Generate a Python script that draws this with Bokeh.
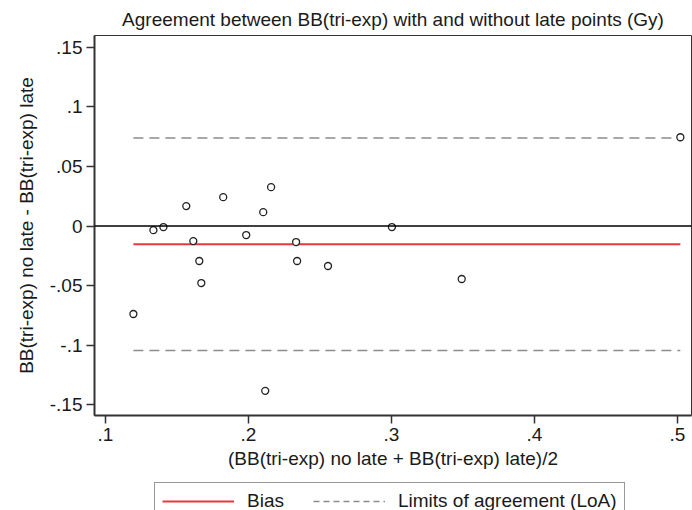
import numpy as np
from bokeh.plotting import figure
from bokeh.layouts import column
from bokeh.models import Span, Legend, LegendItem, FixedTicker
from bokeh.embed import file_html
from bokeh.resources import INLINE

# ---- data ----
mean_vals = [0.1195, 0.1335, 0.1405, 0.1565, 0.1614, 0.1656, 0.1670, 0.1823, 0.1984,
             0.2103, 0.2117, 0.2158, 0.2333, 0.2340, 0.2556, 0.3003, 0.3491, 0.5020]
diff_vals = [-0.0738, -0.0034, -0.0008, 0.0168, -0.0126, -0.0293, -0.0478, 0.0243, -0.0075,
             0.0117, -0.1383, 0.0327, -0.0134, -0.0293, -0.0335, -0.0008, -0.0444, 0.0746]
bias = -0.0152
loa_upper = 0.0740
loa_lower = -0.1045

x_ticks = [0.1, 0.2, 0.3, 0.4, 0.5]
x_tick_labels = [".1", ".2", ".3", ".4", ".5"]
y_ticks = [-0.15, -0.1, -0.05, 0.0, 0.05, 0.1, 0.15]
y_tick_labels = ["-.15", "-.1", "-.05", "0", ".05", ".1", ".15"]

title_text = "Agreement between BB(tri-exp) with and without late points (Gy)"
x_label = "(BB(tri-exp) no late + BB(tri-exp) late)/2"
y_label = "BB(tri-exp) no late - BB(tri-exp) late"
legend_labels = ["Bias", "Limits of agreement (LoA)"]

FONT = "Liberation Sans"
TXT = "#1a1a1a"
RED = "#e8383d"
GREY = "#8c8c8c"

p = figure(width=692, height=479, x_range=(0.0923, 0.5098), y_range=(-0.159, 0.160),
           output_backend="svg", toolbar_location=None,
           min_border_left=94, min_border_right=1, min_border_top=33, min_border_bottom=64,
           title=title_text)

p.title.text_font = FONT
p.title.text_font_size = "19px"
p.title.text_font_style = "normal"
p.title.text_color = TXT
p.title.align = "center"
p.title.standoff = 12

p.xgrid.visible = False
p.ygrid.visible = False
p.outline_line_color = "#333333"
p.outline_line_width = 1

for ax in (p.xaxis[0], p.yaxis[0]):
    ax.axis_line_width = 2
    ax.axis_line_color = "#333333"
    ax.major_tick_line_color = "#333333"
    ax.major_tick_line_width = 1.5
    ax.major_tick_out = 8
    ax.major_tick_in = 0
    ax.minor_tick_out = 0
    ax.minor_tick_in = 0
    ax.major_label_text_font = FONT
    ax.major_label_text_font_size = "19px"
    ax.major_label_text_color = TXT
    ax.axis_label_text_font = FONT
    ax.axis_label_text_font_size = "19px"
    ax.axis_label_text_font_style = "normal"
    ax.axis_label_text_color = TXT

p.xaxis.ticker = FixedTicker(ticks=x_ticks)
p.xaxis.major_label_overrides = dict(zip(x_ticks, x_tick_labels))
p.yaxis.ticker = FixedTicker(ticks=y_ticks)
p.yaxis.major_label_overrides = dict(zip(y_ticks, y_tick_labels))
p.xaxis.axis_label = x_label
p.yaxis.axis_label = y_label
p.xaxis.major_label_standoff = 4
p.xaxis.axis_label_standoff = 4
p.yaxis.major_label_standoff = 4
p.yaxis.axis_label_standoff = 10

# zero reference line
p.add_layout(Span(location=0, dimension="width", line_color="black", line_width=1.5))

x0, x1 = min(mean_vals), max(mean_vals)
p.line([x0, x1], [loa_upper, loa_upper], line_color=GREY, line_width=1.5, line_dash="10 6")
p.line([x0, x1], [loa_lower, loa_lower], line_color=GREY, line_width=1.5, line_dash="10 6")
p.line([x0, x1], [bias, bias], line_color=RED, line_width=2)

p.scatter(mean_vals, diff_vals, size=7, marker="circle", fill_color="white",
          line_color="#222222", line_width=1.3)

# ---- legend strip below the plot (its frame is aligned with the plot's frame) ----
lg = figure(width=692, height=31, x_range=(0, 1), y_range=(0, 1),
            output_backend="svg", toolbar_location=None,
            x_axis_location=None, y_axis_location=None,
            min_border_left=94, min_border_right=1, min_border_top=0, min_border_bottom=0)
lg.xgrid.visible = False
lg.ygrid.visible = False
lg.outline_line_color = None
nan1 = np.array([np.nan])
k_bias = lg.line(x=nan1, y=nan1, line_color=RED, line_width=2)
k_loa = lg.line(x=nan1, y=nan1, line_color=GREY, line_width=1.5, line_dash="6 4")

legend = Legend(items=[LegendItem(label=legend_labels[0], renderers=[k_bias]),
                       LegendItem(label=legend_labels[1], renderers=[k_loa])],
                orientation="horizontal", location=(60, -10))
legend.label_text_font = FONT
legend.label_text_font_size = "19px"
legend.label_text_color = TXT
legend.glyph_width = 72
legend.glyph_height = 20
legend.label_height = 20
legend.label_standoff = 13
legend.spacing = 29
legend.padding = 7
legend.margin = 0
legend.border_line_color = "#333333"
legend.border_line_width = 1.5
legend.background_fill_alpha = 1
lg.add_layout(legend, "center")

layout = column(p, lg, spacing=0)
open("out.html", "w").write(file_html(layout, INLINE))
